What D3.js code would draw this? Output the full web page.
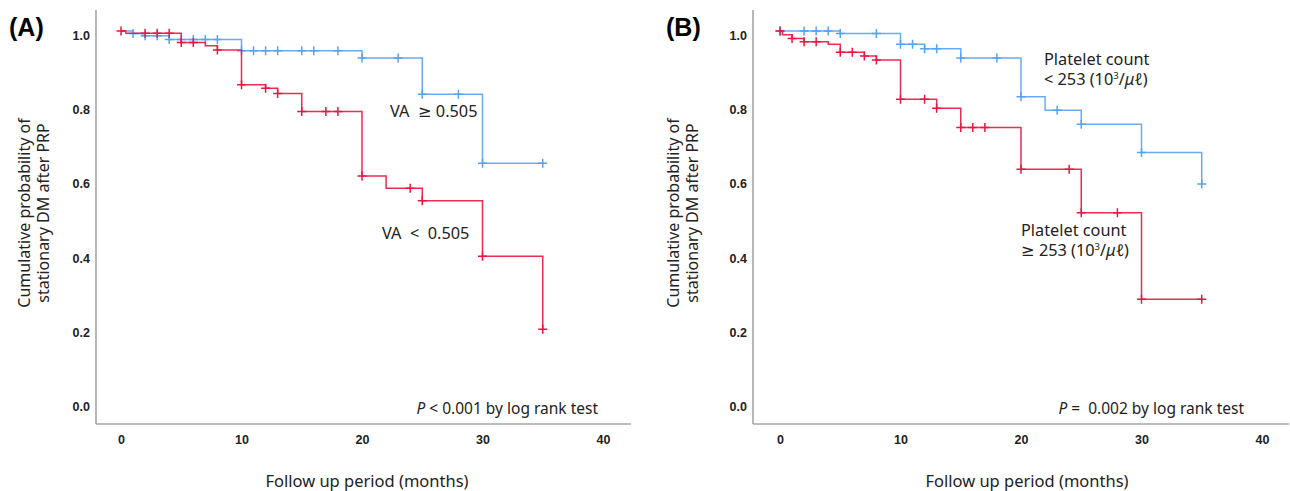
<!DOCTYPE html>
<html>
<head>
<meta charset="utf-8">
<script src="https://cdn.jsdelivr.net/npm/d3@7"></script>
<style>
  body { margin: 0; background: #fff; }
  text { font-family: "Noto Sans", "DejaVu Sans", sans-serif; white-space: pre; }
</style>
</head>
<body>
<svg id="chart" width="1290" height="491"></svg>
<script>
// tick labels
var xTicks = [0, 10, 20, 30, 40];
var yTicks = [0.0, 0.2, 0.4, 0.6, 0.8, 1.0];

// panel A : VA >= 0.505 (blue), VA < 0.505 (red)
// step times / survival after the step
var aBlueTimes = [0, 1, 1.8, 4, 10, 20, 25, 30, 35];
var aBlueSurv  = [1.0, 0.993, 0.987, 0.977, 0.947, 0.927, 0.83, 0.644, 0.644];
var aBlueCens  = [1, 2, 3, 4, 5, 6, 7, 8, 10, 11, 12, 13, 15, 16, 18, 20, 23, 25, 28, 30, 35];

var aRedTimes = [0, 0.4, 5, 7, 8, 10, 12, 13, 15, 20, 22, 25, 30, 35];
var aRedSurv  = [1.0, 0.994, 0.969, 0.96, 0.949, 0.855, 0.846, 0.832, 0.783, 0.61, 0.577, 0.543, 0.394, 0.197];
var aRedCens  = [0, 2, 3, 4, 5, 6, 8, 10, 12, 13, 15, 17, 18, 20, 24, 25, 30, 35];

// panel B : platelet < 253 (blue), >= 253 (red)
var bBlueTimes = [0, 5, 10, 12, 15, 20, 22, 25, 30, 35];
var bBlueSurv  = [1.0, 0.993, 0.964, 0.952, 0.927, 0.823, 0.787, 0.749, 0.673, 0.588];
var bBlueCens  = [0, 2, 3, 4, 5, 8, 10, 11, 12, 13, 15, 18, 20, 23, 25, 30, 35];

var bRedTimes = [0, 0.2, 1, 2, 4, 5, 7, 8, 10, 13, 15, 20, 25, 30, 35];
var bRedSurv  = [1.0, 0.99, 0.98, 0.971, 0.964, 0.943, 0.933, 0.922, 0.816, 0.792, 0.74, 0.628, 0.511, 0.278, 0.278];
var bRedCens  = [0, 1, 2, 3, 5, 6, 7, 8, 10, 12, 13, 15, 16, 17, 20, 24, 25, 28, 30, 35];

var blue = "#56a3f2", red = "#e8173f", axisCol = "#a6a6a6";

const svg = d3.select("#chart");

function stepData(times, surv) {
  return times.map((t, i) => ({t: t, s: surv[i]}));
}
function survAt(times, surv, t) {
  let s = surv[0];
  for (let i = 0; i < times.length; i++) if (times[i] <= t) s = surv[i];
  return s;
}

function drawPanel(p) {
  var x = d3.scaleLinear().domain([0, 40]).range([p.x0, p.x0 + 482]);
  var y = d3.scaleLinear().domain([0, 1]).range([402.5, 31]);
  var g = svg.append("g");

  // axis lines
  g.append("line").attr("x1", p.axisX).attr("x2", p.axisX).attr("y1", 10).attr("y2", 424)
    .attr("stroke", axisCol).attr("stroke-width", 1.6);
  g.append("line").attr("x1", p.axisX).attr("x2", p.axisEnd).attr("y1", 424).attr("y2", 424)
    .attr("stroke", axisCol).attr("stroke-width", 1.6);

  var ya = g.append("g").attr("transform", "translate(" + p.axisX + ",0)")
    .call(d3.axisLeft(y).tickValues(yTicks).tickSize(0).tickPadding(6).tickFormat(d3.format(".1f")));
  ya.select(".domain").remove();
  ya.selectAll("text").attr("dy", "0.35em").attr("y", 4)
    .style("font-family", "'Liberation Sans', sans-serif").style("font-weight", "bold")
    .style("font-size", "12.5px").attr("fill", "#222");

  var xa = g.append("g").attr("transform", "translate(0,424)")
    .call(d3.axisBottom(x).tickValues(xTicks).tickSize(0));
  xa.select(".domain").remove();
  xa.selectAll("text").attr("y", 16).attr("dy", "0.35em")
    .style("font-family", "'Liberation Sans', sans-serif").style("font-weight", "bold")
    .style("font-size", "12.5px").attr("fill", "#222");

  // curves
  var line = d3.line().x(d => x(d.t)).y(d => y(d.s)).curve(d3.curveStepAfter);
  p.series.forEach(function(s) {
    g.append("path").datum(stepData(s.times, s.surv))
      .attr("d", line).attr("fill", "none").attr("stroke", s.color)
      .attr("stroke-width", 1.5).attr("opacity", 0.9);
    g.selectAll(null).data(s.cens).enter().append("path")
      .attr("d", function(t) {
        var cx = x(t), cy = y(survAt(s.times, s.surv, t));
        return "M" + (cx - 4.5) + "," + cy + "H" + (cx + 4.5) + "M" + cx + "," + (cy - 4.5) + "V" + (cy + 4.5);
      })
      .attr("stroke", s.color).attr("stroke-width", 1.5);
  });

  // panel letter
  g.append("text").attr("x", p.letterX).attr("y", 27).attr("dy", "0.35em")
    .style("font-family", "'Liberation Sans', sans-serif")
    .style("font-weight", "bold").style("font-size", "25px").text(p.letter);

  // y title
  var yt = g.append("text").attr("transform", "translate(" + p.ytX + ",213) rotate(-90)")
    .attr("text-anchor", "middle").style("font-size", "16px").attr("fill", "#222");
  yt.append("tspan").attr("x", 0).attr("dy", "0.35em").text("Cumulative probability of");
  yt.append("tspan").attr("x", 0).attr("dy", "1.2em").text("stationary DM after PRP");

  // x title
  g.append("text").attr("x", p.xtX).attr("y", 481).attr("dy", "0.35em")
    .attr("text-anchor", "middle").style("font-size", "16.5px").attr("fill", "#222")
    .text("Follow up period (months)");

  // p value
  var pv = g.append("text").attr("x", p.pX).attr("y", 409).attr("dy", "0.35em")
    .attr("text-anchor", "end").style("font-size", "15.5px").attr("fill", "#222");
  pv.append("tspan").style("font-style", "italic").text("P");
  pv.append("tspan").text(p.pText);

  p.labels.forEach(function(l) {
    var t = g.append("text").attr("x", l.x).attr("y", l.y).attr("dy", "0.35em")
      .style("font-size", "16.3px").attr("fill", "#222");
    l.lines.forEach(function(ln, i) {
      var ts = t.append("tspan").attr("x", l.x).attr("dy", i === 0 ? "0.35em" : "1.25em");
      ln.forEach(function(part) {
        var s = ts.append("tspan").text(part.t);
        if (part.sup) s.attr("baseline-shift", "super").style("font-size", "9.5px");
        if (part.it) s.style("font-style", "italic");
      });
    });
  });
}

drawPanel({
  x0: 121, axisX: 96, axisEnd: 631, letter: "(A)", letterX: 9, ytX: 24, xtX: 367, pX: 598,
  pText: " < 0.001 by log rank test",
  series: [
    {times: aBlueTimes, surv: aBlueSurv, cens: aBlueCens, color: blue},
    {times: aRedTimes, surv: aRedSurv, cens: aRedCens, color: red}
  ],
  labels: [
    {x: 390, y: 111, lines: [[{t: "VA  \u2265 0.505"}]]},
    {x: 382, y: 233, lines: [[{t: "VA  <  0.505"}]]}
  ]
});

drawPanel({
  x0: 780, axisX: 753, axisEnd: 1289, letter: "(B)", letterX: 666, ytX: 673, xtX: 1027, pX: 1244,
  pText: " =  0.002 by log rank test",
  series: [
    {times: bBlueTimes, surv: bBlueSurv, cens: bBlueCens, color: blue},
    {times: bRedTimes, surv: bRedSurv, cens: bRedCens, color: red}
  ],
  labels: [
    {x: 1044, y: 59, lines: [[{t: "Platelet count"}], [{t: "< 253 (10"}, {t: "3", sup: true}, {t: "/"}, {t: "\u03bc\u2113", it: true}, {t: ")"}]]},
    {x: 1021, y: 230, lines: [[{t: "Platelet count"}], [{t: "\u2265 253 (10"}, {t: "3", sup: true}, {t: "/"}, {t: "\u03bc\u2113", it: true}, {t: ")"}]]}
  ]
});
</script>
</body>
</html>
